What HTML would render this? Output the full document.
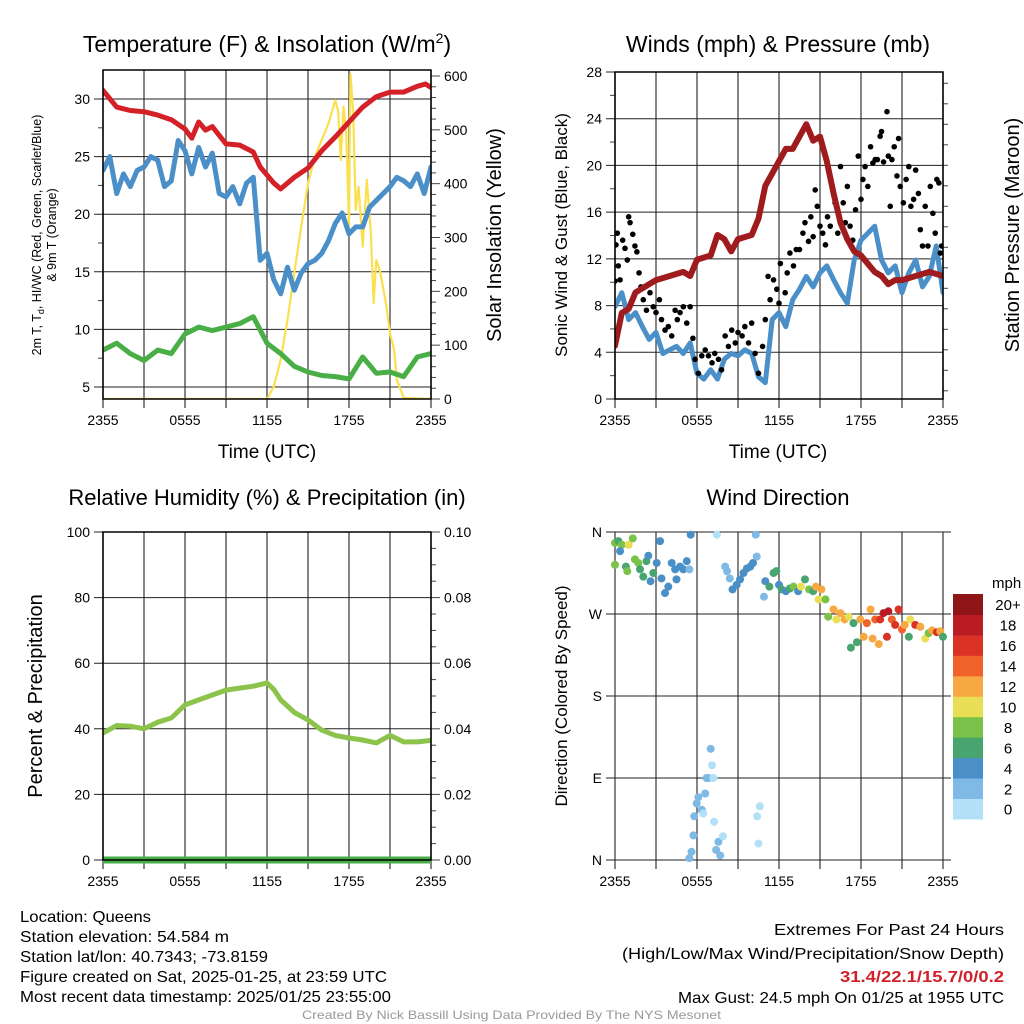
<!DOCTYPE html>
<html><head><meta charset="utf-8">
<style>
html,body{margin:0;padding:0;background:#fff;}
svg{display:block;font-family:"Liberation Sans",sans-serif;}
</style></head>
<body>
<svg id="fig" width="1024" height="1024" viewBox="0 0 1024 1024" xmlns="http://www.w3.org/2000/svg">
<rect width="1024" height="1024" fill="#fff"/>
<g id="p1"></g>
<g id="p2"></g>
<g id="p3"></g>
<g id="p4"></g>
<g font-size="16" fill="#000" lengthAdjust="spacingAndGlyphs">
<text x="20" y="922" textLength="131" lengthAdjust="spacingAndGlyphs">Location: Queens</text>
<text x="20" y="942" textLength="209" lengthAdjust="spacingAndGlyphs">Station elevation: 54.584 m</text>
<text x="20" y="962" textLength="248" lengthAdjust="spacingAndGlyphs">Station lat/lon: 40.7343; -73.8159</text>
<text x="20" y="982" textLength="367" lengthAdjust="spacingAndGlyphs">Figure created on Sat, 2025-01-25, at 23:59 UTC</text>
<text x="20" y="1002" textLength="371" lengthAdjust="spacingAndGlyphs">Most recent data timestamp: 2025/01/25 23:55:00</text>
</g>
<g font-size="16">
<text x="774" y="935" textLength="230" lengthAdjust="spacingAndGlyphs">Extremes For Past 24 Hours</text>
<text x="622" y="959" textLength="382" lengthAdjust="spacingAndGlyphs">(High/Low/Max Wind/Precipitation/Snow Depth)</text>
<text x="840" y="982" textLength="164" lengthAdjust="spacingAndGlyphs" fill="#d0202a" font-weight="bold">31.4/22.1/15.7/0/0.2</text>
<text x="678" y="1003" textLength="326" lengthAdjust="spacingAndGlyphs">Max Gust: 24.5 mph On 01/25 at 1955 UTC</text>
</g>
<text x="302" y="1019" font-size="12" textLength="419" lengthAdjust="spacingAndGlyphs" fill="#999">Created By Nick Bassill Using Data Provided By The NYS Mesonet</text>
</svg>
<script>
// ---------- data ----------
const xTickLabels = ["2355","0555","1155","1755","2355"];
const tempHours = [0,1,2,3,4,5,6,6.5,7,7.5,8,9,10,11,11.5,12,12.5,13,14,15,16,17,18,19,20,21,22,23,23.6,24];
const tempVals = [30.75,29.3,29.0,28.9,28.6,28.2,27.4,26.6,28.0,27.3,27.6,26.1,26.0,25.4,24.1,23.4,22.7,22.2,23.2,24.0,25.5,26.7,28.0,29.3,30.2,30.6,30.6,31.1,31.3,31.0];
const wcHours = [0,0.5,1,1.5,2,2.5,3,3.5,4,4.5,5,5.5,6,6.5,7,7.5,8,8.5,9,9.5,10,10.5,11,11.5,12,12.5,13,13.5,14,14.5,15,15.5,16,16.5,17,17.5,18,18.5,19,19.5,20,20.5,21,21.5,22,22.5,23,23.5,24];
const wcVals = [23.8,25.0,21.8,23.5,22.4,23.8,24.1,25.0,24.7,22.4,22.9,26.4,25.5,23.5,25.8,24.1,25.3,21.8,21.5,22.4,20.9,22.7,23.2,16.0,16.6,14.3,13.1,15.4,13.4,14.9,15.7,16.0,16.6,17.7,19.2,20.1,18.3,18.9,18.9,20.6,21.2,21.8,22.4,23.2,22.9,22.4,23.5,21.8,24.1];
const dewHours = [0,1,2,3,4,5,6,7,8,9,10,11,12,13,14,15,16,17,18,19,20,21,22,23,24];
const dewVals = [8.2,8.8,7.9,7.3,8.2,7.9,9.6,10.2,9.9,10.2,10.5,11.1,8.8,7.9,6.8,6.3,6.0,5.9,5.7,7.6,6.2,6.3,5.9,7.6,7.9];
const solarHours = [0,12,12.5,13,13.5,14,14.5,15,15.5,16,16.5,17,17.2,17.4,17.6,17.8,18,18.1,18.3,18.5,18.7,19,19.3,19.6,19.8,20,20.3,20.7,21,21.3,21.5,22,24];
const solarVals = [0,0,23,73,147,234,320,400,450,481,512,555,536,444,543,493,320,604,536,351,394,283,407,308,178,258,234,178,122,91,36,2,0];
const presHours = [0,0.5,1,1.5,2,3,4,5,5.5,6,7,7.5,8,8.5,9,10,10.5,11,11.5,12,12.5,13,13.5,14,14.5,15,15.5,16,16.5,17,17.5,18,18.5,19,19.5,20,20.5,21,22,23,24];
const presVals = [1016.3,1017.1,1017.2,1017.6,1017.7,1017.9,1018.0,1018.1,1018.0,1018.4,1018.5,1019.0,1018.9,1018.6,1018.9,1019.0,1019.4,1020.2,1020.5,1020.8,1021.1,1021.1,1021.4,1021.7,1021.3,1021.4,1020.8,1020.0,1019.3,1018.9,1018.6,1018.5,1018.3,1018.1,1018.0,1017.8,1017.9,1017.9,1018.0,1018.1,1018.0];
const windHours = wcHours;
const windVals = [7.9,9.1,6.8,7.4,6.2,5.1,5.7,3.9,4.2,4.5,3.9,4.8,2.2,1.7,2.5,1.7,3.4,3.9,3.7,4.2,3.9,1.9,1.4,6.8,7.4,6.2,8.5,9.4,10.5,9.6,10.8,11.4,10.2,9.1,8.2,11.9,13.6,14.2,14.8,11.9,10.8,11.4,9.1,10.8,11.9,9.6,10.5,13.1,9.1];
const gustHours = [0,0.07,0.17,0.24,0.37,0.56,0.73,0.9,1.0,1.1,1.3,1.46,1.6,1.76,1.9,2.07,2.3,2.56,2.8,3.0,3.25,3.4,3.66,3.9,4.15,4.4,4.56,4.76,5.0,5.25,5.5,5.7,5.86,6.1,6.35,6.6,6.84,7.1,7.3,7.57,7.8,8.06,8.3,8.54,8.8,9.0,9.3,9.5,9.77,10.0,10.25,10.5,10.8,11.0,11.2,11.35,11.6,11.84,12.0,12.1,12.45,12.6,12.8,13.06,13.26,13.5,13.75,13.9,14.16,14.33,14.5,14.65,14.8,15.0,15.2,15.4,15.55,15.75,15.95,16.1,16.3,16.5,16.7,16.85,17.0,17.2,17.4,17.6,17.8,18.0,18.14,18.3,18.5,18.7,18.87,19.04,19.2,19.4,19.5,19.65,19.9,20.0,20.14,20.26,20.43,20.63,20.75,20.87,21.1,21.3,21.5,21.65,21.85,22.0,22.2,22.34,22.5,22.7,22.9,23.07,23.26,23.43,23.55,23.7,23.8,23.9];
const gustVals = [10.1,13.2,14.2,11.4,10.2,13.6,12.9,11.9,15.6,15.1,14.1,13.1,12.6,10.8,9.6,8.5,7.6,9.1,7.9,7.4,8.5,6.8,5.9,6.2,5.4,7.6,6.8,7.4,7.9,6.5,7.9,5.2,3.4,2.2,3.7,4.2,3.7,3.1,3.9,3.4,2.5,5.4,4.5,5.9,4.8,5.7,5.4,6.2,4.8,6.5,3.9,2.2,4.5,6.8,10.5,8.5,10.2,9.4,8.2,11.6,9.1,10.8,12.5,11.4,12.8,12.8,14.2,15.1,13.5,15.6,13.9,17.9,16.5,14.8,14.2,13.2,15.6,14.8,17.9,16.8,14.2,19.9,16.8,15.1,18.2,14.8,13.6,16.2,20.8,17.1,18.8,19.9,18.2,21.6,20.2,20.5,20.5,22.5,22.9,20.3,24.6,20.8,16.5,20.5,21.6,19.1,22.3,18.2,16.8,18.8,19.9,16.5,17.1,19.6,17.6,14.5,13.1,16.5,13.1,18.2,15.9,14.2,18.8,18.5,12.5,13.1];
const rhHours = [0,1,2,3,4,5,6,7,8,9,10,11,12,12.5,13,14,15,16,17,18,19,20,21,22,23,24];
const rhVals = [38.7,41,40.8,40,42,43.3,47.3,48.8,50.3,51.8,52.4,53,54,52,48.8,45,42.7,39.6,38,37.2,36.6,35.7,38,36,36,36.5];
const precipHours = [0,24];
const precipVals = [0,0];
const dirHours = [0,0.25,0.5,1,1.3,0,0.37,0.8,0.9,1.46,1.7,1.83,2.07,2.3,2.44,2.6,2.8,3.05,3.3,3.4,3.66,3.9,4.15,4.4,4.5,4.76,5.0,5.25,5.44,5.54,
 5.44,5.6,5.74,5.8,5.98,6.1,6.35,6.47,6.6,6.7,6.84,7.0,7.1,7.2,7.25,7.4,7.57,7.7,7.9,7.45,
 8.06,8.2,8.4,8.6,8.9,9.15,9.4,9.65,9.9,10.1,10.3,10.37,10.6,10.4,10.5,10.9,11.0,11.3,11.6,11.8,12.0,12.2,12.5,12.8,13.06,13.4,13.6,13.9,14.2,14.5,14.7,14.9,15.1,15.4,15.6,15.99,16.2,16.5,16.8,17.1,17.26,17.45,17.7,17.95,18.2,18.43,18.7,18.85,19.04,19.3,19.4,19.65,19.9,20.0,20.26,20.5,20.75,21.0,21.2,21.5,21.6,21.97,22.34,22.7,22.95,23.2,23.55,23.8,24];
const dirVals = [348,350,346,346,353,324,339,322,317,330,326,319,311,328,334,306,315,326,350,309,293,300,326,319,308,322,319,328,319,357,
 2,9,27,48,62,69,55,51,73,90,90,122,104,90,42,11,20,5,26,357,
 322,317,309,297,302,308,315,320,322,326,357,333,59,48,18,289,306,300,315,317,302,297,295,298,300,295,300,308,297,295,300,286,297,286,267,275,264,271,264,267,233,260,239,264,245,260,275,243,264,237,264,271,245,273,264,258,275,253,258,245,264,258,256,243,249,252,250,251,245];
const dirSpeeds = [9,7,9,11,9,9,5,7,9,9,9,7,7,7,5,5,7,5,5,5,5,5,5,5,5,5,5,5,3,5,
 3,3,3,3,3,3,3,1,3,3,3,3,1,1,1,3,3,3,1,1,
 3,3,3,5,5,5,5,5,5,5,3,3,1,1,1,3,5,7,7,7,5,7,5,7,9,5,11,7,9,7,13,11,13,9,9,13,11,13,13,11,7,7,7,13,13,15,13,13,15,13,17,19,17,19,15,17,17,15,13,7,11,17,13,11,9,13,17,13,7];
const cbLabels = ["0","2","4","6","8","10","12","14","16","18","20+"];
const cbColors = ["#b2e1f7","#7fb9e5","#4a8fc6","#48a56f","#7bc24a","#e8df57","#f6a843","#f06229","#db3226","#b91d23","#8f1518"];

// ---------- helpers ----------
const NS="http://www.w3.org/2000/svg";
function mk(parent,tag,attrs,txt){const e=document.createElementNS(NS,tag);for(const k in attrs)e.setAttribute(k,attrs[k]);if(txt!==undefined)e.textContent=txt;parent.appendChild(e);return e;}
function lin(d0,d1,r0,r1){return v=>r0+(v-d0)*(r1-r0)/(d1-d0);}
function pathD(xs,ys,fx,fy){return xs.map((t,i)=>(i?"L":"M")+fx(t).toFixed(1)+","+fy(ys[i]).toFixed(1)).join("");}

function frame(g,id,L,R,T,B,fx){
  const cp=mk(g,"clipPath",{id:id});mk(cp,"rect",{x:L,y:T,width:R-L,height:B-T});
  for(let h=0;h<=24;h+=3){const x=fx(h);
    const l=mk(g,"line",{x1:x,y1:T,x2:x,y2:B+9,stroke:"#444","stroke-width":1.3});
    
    
  }
  xTickLabels.forEach((s,i)=>{
    const t=mk(g,"text",{x:fx(i*6),y:B+26,"font-size":14,"text-anchor":"middle"},s);
    
    
  });
}
function hgrid(g,L,R,y,label){
  const l=mk(g,"line",{x1:L-9,y1:y,x2:R,y2:y,stroke:"#222","stroke-width":1});
  
  
  const t=mk(g,"text",{x:L-13,y:y+5,"font-size":14,"text-anchor":"end"},label);
  
  
}
function rtick(g,R,y,label,major){
  mk(g,"line",{x1:R,y1:y,x2:R+(major?9:5),y2:y,stroke:"#444","stroke-width":1});
  if(label!==null){const t=mk(g,"text",{x:R+13,y:y+5,"font-size":14},label);
    
    }
}
function box(g,L,R,T,B){const r=mk(g,"rect",{x:L,y:T,width:R-L,height:B-T,fill:"none",stroke:"#000","stroke-width":1.5});
  }

// ---------- panel 1 ----------
(function(){
  const g=document.getElementById("p1");const L=103,R=431,T=70,B=399;
  const fx=lin(0,24,L,R), fy=lin(5,30,387,99), fs=lin(0,600,399,76);
  frame(g,"c1",L,R,T,B,fx);
  [5,10,15,20,25,30].forEach(v=>hgrid(g,L,R,fy(v),String(v)));
  for(let v=7.5;v<32;v+=5) mk(g,"line",{x1:L-5,y1:fy(v),x2:L,y2:fy(v),stroke:"#444"});
  for(let v=0;v<=600;v+=20) rtick(g,R,fs(v),v%100===0?String(v):null,v%100===0);
  const c=mk(g,"g",{"clip-path":"url(#c1)",fill:"none","stroke-linejoin":"round","stroke-linecap":"round"});
  const s1=mk(c,"path",{d:pathD(solarHours,solarVals,fx,fs),stroke:"#fbe04e","stroke-width":2.2});
  
  const s2=mk(c,"path",{d:pathD(dewHours,dewVals,fx,fy),stroke:"#4aae46","stroke-width":5});
  
  const s3=mk(c,"path",{d:pathD(wcHours,wcVals,fx,fy),stroke:"#4b8fc8","stroke-width":5});
  
  const s4=mk(c,"path",{d:pathD(tempHours,tempVals,fx,fy),stroke:"#d42027","stroke-width":5});
  
  box(g,L,R,T,B);
  mk(g,"text",{x:267,y:52,"font-size":23,"text-anchor":"middle",}).innerHTML='Temperature (F) &amp; Insolation (W/m<tspan dy="-9" font-size="14">2</tspan><tspan dy="9">)</tspan>';
  mk(g,"text",{x:267,y:458,"font-size":19,"text-anchor":"middle",},"Time (UTC)");
  const yt=mk(g,"text",{transform:"translate(41,235) rotate(-90)","font-size":12.5,"text-anchor":"middle",});
  yt.innerHTML='2m T, T<tspan dy="3" font-size="9">d</tspan><tspan dy="-3">, HI/WC (Red, Green, Scarlet/Blue)</tspan>';
  mk(g,"text",{transform:"translate(56,235) rotate(-90)","font-size":12.5,"text-anchor":"middle",},"& 9m T (Orange)");
  mk(g,"text",{transform:"translate(501,235) rotate(-90)","font-size":20,"text-anchor":"middle",},"Solar Insolation (Yellow)");
})();

// ---------- panel 2 ----------
(function(){
  const g=document.getElementById("p2");const L=615,R=943,T=72,B=399;
  const fx=lin(0,24,L,R), fy=lin(0,28,399,72), fp=lin(1016,1022,358,112);
  frame(g,"c2",L,R,T,B,fx);
  [0,4,8,12,16,20,24,28].forEach(v=>hgrid(g,L,R,fy(v),String(v)));
  for(let v=2;v<28;v+=4) mk(g,"line",{x1:L-5,y1:fy(v),x2:L,y2:fy(v),stroke:"#444"});
  for(let v=1015.2;v<=1023.1;v+=0.5){const m=Math.abs(v-Math.round(v))<0.01&&Math.round(v)%2===0;rtick(g,R,fp(v),m?String(Math.round(v)):null,m);}
  const c=mk(g,"g",{"clip-path":"url(#c2)","stroke-linejoin":"round","stroke-linecap":"round"});
  const w=mk(c,"path",{d:pathD(windHours,windVals,fx,fy),stroke:"#4b8fc8","stroke-width":5,fill:"none"});
  
  gustHours.forEach((t,i)=>{const d=mk(c,"circle",{cx:fx(t),cy:fy(gustVals[i]),r:2.8,fill:"#000"});
    });
  const p=mk(c,"path",{d:pathD(presHours,presVals,fx,fp),stroke:"#a01b1d","stroke-width":6,fill:"none"});
  
  box(g,L,R,T,B);
  mk(g,"text",{x:778,y:52,"font-size":23,"text-anchor":"middle",},"Winds (mph) & Pressure (mb)");
  mk(g,"text",{x:778,y:458,"font-size":19,"text-anchor":"middle",},"Time (UTC)");
  mk(g,"text",{transform:"translate(567,235) rotate(-90)","font-size":17,"text-anchor":"middle",},"Sonic Wind & Gust (Blue, Black)");
  mk(g,"text",{transform:"translate(1019,235) rotate(-90)","font-size":20,"text-anchor":"middle",},"Station Pressure (Maroon)");
})();

// ---------- panel 3 ----------
(function(){
  const g=document.getElementById("p3");const L=103,R=431,T=532,B=860;
  const fx=lin(0,24,L,R), fy=lin(0,100,860,532);
  frame(g,"c3",L,R,T,B,fx);
  [0,20,40,60,80,100].forEach(v=>hgrid(g,L,R,fy(v),String(v)));
  for(let v=0;v<=100;v+=5) rtick(g,R,fy(v),v%20===0?(v/1000).toFixed(2):null,v%20===0);
  const c=mk(g,"g",{"clip-path":"url(#c3)",fill:"none","stroke-linejoin":"round","stroke-linecap":"round"});
  const h=mk(c,"path",{d:pathD(rhHours,rhVals,fx,fy),stroke:"#8cc34b","stroke-width":5});
  
  const pr=mk(g,"path",{d:pathD(precipHours,precipVals,fx,v=>fy(v*1000)),stroke:"#46ad48","stroke-width":7,fill:"none"});
  
  box(g,L,R,T,B);
  mk(g,"text",{x:267,y:505,"font-size":22,"text-anchor":"middle",},"Relative Humidity (%) & Precipitation (in)");
  mk(g,"text",{transform:"translate(42,696) rotate(-90)","font-size":20,"text-anchor":"middle",},"Percent & Precipitation");
})();

// ---------- panel 4 ----------
(function(){
  const g=document.getElementById("p4");const L=615,R=943,T=532,B=860;
  const fx=lin(0,24,L,R), fy=lin(0,360,860,532);
  frame(g,"c4",L,R,T,B,fx);
  const dl=["N","E","S","W","N"];
  [0,90,180,270,360].forEach((v,i)=>hgrid(g,L,R+8,fy(v),dl[i]));
  const c=mk(g,"g",{});
  function col(s){let i=Math.floor(s/2);if(i>10)i=10;return cbColors[i];}
  dirHours.forEach((t,i)=>{const d=mk(c,"circle",{cx:fx(t),cy:fy(dirVals[i]),r:4,fill:col(dirSpeeds[i])});
    });
  mk(g,"text",{x:778,y:505,"font-size":22,"text-anchor":"middle",},"Wind Direction");
  mk(g,"text",{transform:"translate(567,696) rotate(-90)","font-size":17,"text-anchor":"middle",},"Direction (Colored By Speed)");
  const cb=mk(g,"g",{});
  const top=594,bh=20.45;
  cbColors.forEach((cl,i)=>{const y=top+(10-i)*bh;
    const r=mk(cb,"rect",{x:953,y:y,width:30,height:bh+0.5,fill:cl});
    
    const t=mk(cb,"text",{x:1008,y:y+bh/2+6,"font-size":15,"text-anchor":"middle"},cbLabels[i]);
    });
  mk(cb,"text",{x:992,y:588,"font-size":15,},"mph");
})();
</script>
</body></html>
